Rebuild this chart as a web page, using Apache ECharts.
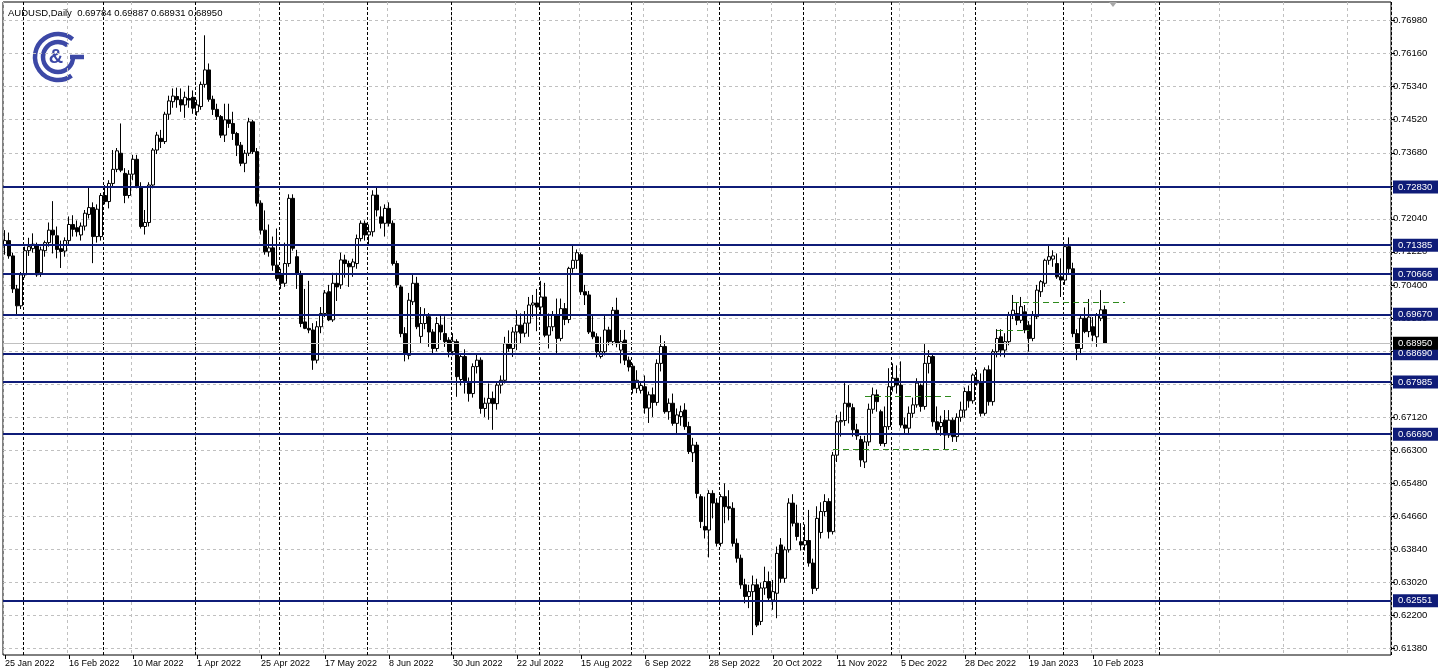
<!DOCTYPE html>
<html><head><meta charset="utf-8">
<script src="https://cdn.jsdelivr.net/npm/echarts@6/dist/echarts.min.js"></script>
<style>html,body{margin:0;padding:0;background:#fff}#c{width:1438px;height:671px}</style>
</head><body><div id="c"></div><script>
// ---------------- DATA ----------------
const symbolTitle = 'AUDUSD,Daily';
const xTickLabels = ['25 Jan 2022','16 Feb 2022','10 Mar 2022','1 Apr 2022','25 Apr 2022','17 May 2022','8 Jun 2022','30 Jun 2022','22 Jul 2022','15 Aug 2022','6 Sep 2022','28 Sep 2022','20 Oct 2022','11 Nov 2022','5 Dec 2022','28 Dec 2022','19 Jan 2023','10 Feb 2023'];
const yTickValues = [0.6138,0.6220,0.6302,0.6384,0.6466,0.6548,0.6630,0.6712,0.6794,0.6876,0.6958,0.7040,0.7122,0.7204,0.7286,0.7368,0.7452,0.7534,0.7616,0.7698];
const levelPrices = [0.72830,0.71385,0.70666,0.69670,0.68690,0.67985,0.66690,0.62551];
const bidPrice = 0.68950;
const monthStartIdx = [5,25,48,69,91,112,134,157,179,200,222,243,265,289];
const greenSegments = [[207,238,0.6632],[215,237,0.6764],[248,256,0.6928],[252,280,0.6996]];

const opens = [
0.7140,0.7150,0.7112,0.7030,0.6988,0.7065,0.7125,0.7130,0.7140,0.7070,
0.7125,0.7145,0.7176,0.7162,0.7130,0.7124,0.7150,0.7190,0.7182,0.7164,
0.7186,0.7215,0.7232,0.7160,0.7160,0.7262,0.7247,0.7292,0.7327,0.7367,
0.7317,0.7262,0.7315,0.7352,0.7284,0.7185,0.7195,0.7288,0.7375,0.7404,
0.7396,0.7464,0.7495,0.7508,0.7500,0.7487,0.7503,0.7506,0.7470,0.7483,
0.7538,0.7574,0.7501,0.7476,0.7458,0.7412,0.7450,0.7441,0.7416,0.7387,
0.7342,0.7367,0.7445,0.7371,0.7243,0.7176,0.7122,0.7132,0.7089,0.7066,
0.7044,0.7093,0.7255,0.7110,0.7068,0.6948,0.6932,0.6928,0.6853,0.6936,
0.6969,0.7023,0.6953,0.7044,0.7040,0.7102,0.7093,0.7085,0.7093,0.7155,
0.7193,0.7164,0.7172,0.7263,0.7209,0.7193,0.7230,0.7193,0.7093,0.7035,
0.6919,0.6865,0.6998,0.7044,0.6912,0.6944,0.6961,0.6923,0.6882,0.6940,
0.6919,0.6903,0.6874,0.6899,0.6805,0.6862,0.6799,0.6770,0.6837,0.6853,
0.6733,0.6746,0.6758,0.6745,0.6791,0.6803,0.6894,0.6882,0.6923,0.6940,
0.6920,0.6945,0.6990,0.6995,0.6985,0.7010,0.6915,0.6936,0.6965,0.6907,
0.6981,0.6954,0.7081,0.7101,0.7115,0.7023,0.7015,0.6923,0.6911,0.6862,
0.6874,0.6928,0.6899,0.6977,0.6878,0.6903,0.6853,0.6838,0.6783,0.6778,
0.6787,0.6734,0.6767,0.6748,0.6845,0.6887,0.6725,0.6746,0.6696,0.6713,
0.6729,0.6688,0.6623,0.6642,0.6514,0.6440,0.6431,0.6522,0.6498,0.6398,
0.6514,0.6489,0.6485,0.6398,0.6361,0.6295,0.6266,0.6278,0.6295,0.6204,
0.6287,0.6303,0.6257,0.6274,0.6394,0.6311,0.6382,0.6498,0.6448,0.6402,
0.6394,0.6405,0.6349,0.6286,0.6425,0.6477,0.6502,0.6427,0.6617,0.6700,
0.6703,0.6746,0.6735,0.6680,0.6656,0.6600,0.6650,0.6731,0.6767,0.6725,
0.6646,0.6688,0.6787,0.6808,0.6791,0.6692,0.6684,0.6721,0.6742,0.6790,
0.6738,0.6845,0.6862,0.6700,0.6688,0.6704,0.6667,0.6704,0.6663,0.6711,
0.6729,0.6775,0.6752,0.6803,0.6796,0.6721,0.6829,0.6750,0.6874,0.6911,
0.6878,0.6899,0.6965,0.6969,0.6952,0.6973,0.6940,0.6907,0.6961,0.7023,
0.7044,0.7101,0.7104,0.7093,0.7060,0.7052,0.7135,0.7080,0.6919,0.6882,
0.6957,0.6924,0.6936,0.6911,0.6957,0.69784];
const highs = [
0.7176,0.7170,0.7120,0.7040,0.7072,0.7135,0.7157,0.7168,0.7145,0.7135,
0.7150,0.7195,0.7248,0.7185,0.7150,0.7158,0.7210,0.7213,0.7200,0.7195,
0.7226,0.7283,0.7245,0.7240,0.7268,0.7288,0.7300,0.7375,0.7380,0.7441,
0.7330,0.7325,0.7363,0.7363,0.7295,0.7226,0.7295,0.7380,0.7420,0.7425,
0.7470,0.7510,0.7528,0.7530,0.7528,0.7520,0.7535,0.7523,0.7500,0.7545,
0.7660,0.7590,0.7510,0.7490,0.7462,0.7490,0.7490,0.7470,0.7420,0.7395,
0.7375,0.7455,0.7450,0.7380,0.7250,0.7225,0.7190,0.7160,0.7180,0.7080,
0.7145,0.7265,0.7265,0.7127,0.7075,0.7030,0.7050,0.6945,0.6950,0.6985,
0.7027,0.7040,0.7070,0.7070,0.7120,0.7115,0.7100,0.7105,0.7165,0.7200,
0.7200,0.7190,0.7275,0.7283,0.7235,0.7240,0.7245,0.7200,0.7100,0.7040,
0.6935,0.7020,0.7065,0.7060,0.6985,0.6982,0.6970,0.6930,0.6960,0.6965,
0.6962,0.6910,0.6920,0.6905,0.6870,0.6880,0.6810,0.6845,0.6870,0.6860,
0.6760,0.6795,0.6775,0.6800,0.6815,0.6911,0.6927,0.6935,0.6977,0.6969,
0.6975,0.7010,0.7015,0.7030,0.7050,0.7045,0.6969,0.6975,0.7006,0.7006,
0.6995,0.7085,0.7137,0.7128,0.7120,0.7040,0.7025,0.6965,0.6920,0.6911,
0.6965,0.6936,0.6985,0.7008,0.6928,0.6928,0.6862,0.6845,0.6828,0.6800,
0.6815,0.6775,0.6785,0.6855,0.6915,0.6900,0.6758,0.6770,0.6733,0.6740,
0.6746,0.6700,0.6660,0.6650,0.6520,0.6514,0.6530,0.6530,0.6510,0.6520,
0.6547,0.6530,0.6500,0.6410,0.6370,0.6310,0.6295,0.6318,0.6310,0.6300,
0.6340,0.6328,0.6307,0.6390,0.6411,0.6390,0.6510,0.6520,0.6494,0.6448,
0.6445,0.6481,0.6360,0.6490,0.6500,0.6520,0.6510,0.6625,0.6717,0.6725,
0.6796,0.6791,0.6745,0.6695,0.6665,0.6665,0.6745,0.6785,0.6780,0.6730,
0.6738,0.6833,0.6845,0.6840,0.6850,0.6710,0.6738,0.6760,0.6808,0.6795,
0.6893,0.6878,0.6870,0.6738,0.6715,0.6729,0.6729,0.6710,0.6721,0.6750,
0.6785,0.6790,0.6820,0.6830,0.6820,0.6835,0.6840,0.6880,0.6930,0.6930,
0.6920,0.6973,0.7015,0.6995,0.7010,0.6990,0.6950,0.6975,0.7040,0.7052,
0.7105,0.7139,0.7126,0.7118,0.7106,0.7140,0.7158,0.7095,0.6930,0.6965,
0.6984,0.7005,0.6960,0.6970,0.7027,0.69887];
const lows = [
0.7115,0.7105,0.7020,0.6967,0.6980,0.7058,0.7112,0.7120,0.7060,0.7060,
0.7110,0.7135,0.7118,0.7106,0.7082,0.7110,0.7140,0.7160,0.7160,0.7150,
0.7175,0.7205,0.7094,0.7145,0.7150,0.7240,0.7230,0.7285,0.7320,0.7320,
0.7243,0.7255,0.7300,0.7280,0.7180,0.7165,0.7185,0.7280,0.7365,0.7380,
0.7390,0.7450,0.7480,0.7480,0.7470,0.7455,0.7480,0.7465,0.7460,0.7475,
0.7530,0.7495,0.7462,0.7450,0.7405,0.7395,0.7430,0.7400,0.7360,0.7335,
0.7320,0.7360,0.7365,0.7235,0.7165,0.7115,0.7110,0.7075,0.7050,0.7030,
0.7035,0.7085,0.7125,0.7030,0.6935,0.6930,0.6920,0.6829,0.6845,0.6920,
0.6960,0.6950,0.6948,0.7000,0.7030,0.7058,0.7035,0.7060,0.7080,0.7148,
0.7150,0.7140,0.7160,0.7210,0.7180,0.7160,0.7185,0.7088,0.7033,0.6910,
0.6850,0.6855,0.6990,0.6930,0.6895,0.6930,0.6886,0.6870,0.6875,0.6903,
0.6886,0.6860,0.6865,0.6762,0.6790,0.6770,0.6750,0.6760,0.6820,0.6720,
0.6712,0.6705,0.6680,0.6730,0.6770,0.6795,0.6874,0.6861,0.6878,0.6895,
0.6910,0.6911,0.6960,0.6925,0.6965,0.6910,0.6882,0.6925,0.6870,0.6900,
0.6940,0.6945,0.7070,0.7080,0.7015,0.6990,0.6918,0.6905,0.6860,0.6857,
0.6865,0.6890,0.6890,0.6885,0.6845,0.6841,0.6825,0.6770,0.6771,0.6770,
0.6720,0.6697,0.6712,0.6740,0.6825,0.6720,0.6705,0.6690,0.6668,0.6690,
0.6680,0.6620,0.6600,0.6510,0.6436,0.6410,0.6363,0.6460,0.6390,0.6390,
0.6448,0.6455,0.6390,0.6350,0.6285,0.6249,0.6237,0.6170,0.6190,0.6195,
0.6270,0.6253,0.6233,0.6212,0.6300,0.6300,0.6375,0.6440,0.6405,0.6380,
0.6380,0.6340,0.6272,0.6280,0.6410,0.6465,0.6410,0.6420,0.6600,0.6663,
0.6690,0.6696,0.6663,0.6655,0.6588,0.6585,0.6640,0.6720,0.6725,0.6640,
0.6638,0.6680,0.6775,0.6770,0.6685,0.6670,0.6672,0.6710,0.6735,0.6725,
0.6730,0.6820,0.6688,0.6671,0.6665,0.6630,0.6660,0.6650,0.6650,0.6700,
0.6710,0.6735,0.6745,0.6790,0.6713,0.6715,0.6740,0.6740,0.6860,0.6862,
0.6860,0.6890,0.6955,0.6940,0.6945,0.6920,0.6874,0.6900,0.6955,0.7010,
0.7035,0.7090,0.7085,0.7055,0.7010,0.7040,0.7065,0.6910,0.6853,0.6870,
0.6920,0.6910,0.6900,0.6886,0.6950,0.68931];
const closes = [
0.7150,0.7112,0.7030,0.6988,0.7065,0.7125,0.7135,0.7141,0.7065,0.7127,
0.7145,0.7176,0.7164,0.7128,0.7123,0.7150,0.7190,0.7178,0.7172,0.7186,
0.7218,0.7232,0.7160,0.7228,0.7262,0.7247,0.7292,0.7327,0.7373,0.7325,
0.7262,0.7315,0.7352,0.7284,0.7185,0.7195,0.7288,0.7375,0.7412,0.7396,
0.7464,0.7497,0.7509,0.7500,0.7487,0.7506,0.7499,0.7479,0.7487,0.7538,
0.7574,0.7501,0.7476,0.7458,0.7412,0.7450,0.7441,0.7416,0.7387,0.7342,
0.7367,0.7445,0.7371,0.7243,0.7176,0.7122,0.7132,0.7089,0.7056,0.7044,
0.7093,0.7255,0.7131,0.7068,0.6944,0.6932,0.6928,0.6853,0.6936,0.6969,
0.7020,0.6953,0.7044,0.7035,0.7102,0.7093,0.7085,0.7097,0.7155,0.7193,
0.7164,0.7172,0.7263,0.7226,0.7193,0.7230,0.7193,0.7093,0.7040,0.6919,
0.6870,0.7002,0.7044,0.6936,0.6944,0.6965,0.6923,0.6882,0.6944,0.6923,
0.6899,0.6874,0.6900,0.6812,0.6862,0.6799,0.6770,0.6837,0.6853,0.6733,
0.6746,0.6758,0.6745,0.6791,0.6803,0.6894,0.6882,0.6923,0.6940,0.6920,
0.6945,0.6990,0.6995,0.6985,0.7010,0.6915,0.6936,0.6965,0.6907,0.6981,
0.6954,0.7081,0.7101,0.7120,0.7023,0.7015,0.6923,0.6911,0.6874,0.6874,
0.6928,0.6899,0.6977,0.6894,0.6899,0.6853,0.6836,0.6783,0.6803,0.6790,
0.6734,0.6767,0.6748,0.6845,0.6887,0.6725,0.6746,0.6696,0.6717,0.6725,
0.6688,0.6626,0.6642,0.6522,0.6452,0.6431,0.6522,0.6498,0.6398,0.6514,
0.6489,0.6485,0.6398,0.6361,0.6295,0.6266,0.6278,0.6295,0.6195,0.6287,
0.6303,0.6262,0.6278,0.6373,0.6311,0.6382,0.6498,0.6448,0.6415,0.6394,
0.6405,0.6349,0.6286,0.6460,0.6477,0.6502,0.6427,0.6617,0.6700,0.6703,
0.6746,0.6737,0.6680,0.6665,0.6605,0.6650,0.6731,0.6767,0.6750,0.6646,
0.6688,0.6787,0.6808,0.6791,0.6692,0.6684,0.6721,0.6742,0.6796,0.6738,
0.6845,0.6862,0.6700,0.6680,0.6698,0.6667,0.6704,0.6663,0.6711,0.6729,
0.6775,0.6752,0.6816,0.6796,0.6721,0.6829,0.6750,0.6874,0.6907,0.6878,
0.6899,0.6965,0.6977,0.6952,0.6986,0.6928,0.6907,0.6965,0.7027,0.7048,
0.7101,0.7110,0.7112,0.7060,0.7052,0.7135,0.7080,0.6919,0.6882,0.6957,
0.6924,0.6960,0.6915,0.6965,0.6978,0.68950];

// ---------------- BUILD ----------------
const TOTAL_SLOTS = 347;
const categories = [];
(function () {
  const d = new Date(Date.UTC(2022, 0, 25));
  while (categories.length < opens.length) {
    const wd = d.getUTCDay();
    const iso = d.toISOString().slice(0, 10);
    if (wd !== 0 && wd !== 6 && iso !== '2022-12-26') categories.push(iso);
    d.setUTCDate(d.getUTCDate() + 1);
  }
  for (let k = 1; categories.length < TOTAL_SLOTS; k++) categories.push('future-' + k);
})();
const candleData = opens.map((o, i) => [o, closes[i], lows[i], highs[i]]);

const FONT = "'Liberation Sans', Arial, sans-serif";
const NAVY = '#0f1c78';
const LOGO = '#3c48a6';
const last = opens.length - 1;
const titleText = symbolTitle + '  ' + [opens[last], highs[last], lows[last], closes[last]].map(v => v.toFixed(5)).join(' ');

const labelEvery = 16;
const isLabelIdx = (i) => i % labelEvery === 0 && i / labelEvery < xTickLabels.length;

const markData = levelPrices.map(v => ({
  yAxis: v,
  lineStyle: { color: NAVY, width: 2, type: 'solid' },
  label: { show: true, position: 'end', distance: 2, formatter: v.toFixed(5), color: '#fff',
           backgroundColor: NAVY, padding: [2, 6, 1, 5], fontSize: 9.5, fontFamily: FONT }
}));
markData.push({
  yAxis: bidPrice,
  lineStyle: { color: '#c0c0c0', width: 1, type: 'solid' },
  label: { show: true, position: 'end', distance: 2, formatter: bidPrice.toFixed(5), color: '#fff',
           backgroundColor: '#000', padding: [2, 6, 1, 5], fontSize: 9.5, fontFamily: FONT }
});
greenSegments.forEach(s => {
  markData.push([
    { coord: [categories[s[0]], s[2]], lineStyle: { color: '#2e8a1c', width: 1, type: [6, 4] }, label: { show: false } },
    { coord: [categories[s[1]], s[2]] }
  ]);
});

const option = {
  animation: false,
  backgroundColor: '#ffffff',
  textStyle: { fontFamily: FONT },
  grid: { left: 3, right: 47, top: 2, bottom: 16, show: true, borderColor: '#000', borderWidth: 1, backgroundColor: 'transparent' },
  xAxis: [
    {
      type: 'category', data: categories, boundaryGap: true,
      axisLine: { show: false },
      axisTick: { show: true, alignWithLabel: true, length: 4, interval: (i) => isLabelIdx(i), lineStyle: { color: '#000' } },
      axisLabel: { interval: (i) => isLabelIdx(i), formatter: (v, i) => xTickLabels[i / labelEvery] || '',
                   align: 'left', margin: 4, fontSize: 9, fontFamily: FONT, color: '#000' },
      splitLine: { show: true, interval: (i) => i % labelEvery === 0, lineStyle: { color: '#c0c0c0', width: 1, type: [3, 3] } }
    },
    {
      type: 'category', data: categories, boundaryGap: true,
      axisLine: { show: false }, axisTick: { show: false }, axisLabel: { show: false },
      splitLine: { show: true, interval: (i) => monthStartIdx.indexOf(i) >= 0, lineStyle: { color: '#000', width: 1, type: [3, 2] } }
    }
  ],
  yAxis: {
    type: 'value', position: 'right', min: 0.61206, max: 0.77427, scale: true,
    axisLine: { show: false },
    axisTick: { show: true, customValues: yTickValues, length: 4, lineStyle: { color: '#000' } },
    axisLabel: { customValues: yTickValues, formatter: (v) => v.toFixed(5), fontSize: 9.5, fontFamily: FONT, color: '#000', margin: 2 },
    splitLine: { show: true, lineStyle: { color: '#c0c0c0', width: 1, type: [3, 3] } }
  },
  series: [{
    type: 'candlestick', xAxisIndex: 0, yAxisIndex: 0,
    data: candleData, barWidth: 3,
    itemStyle: { color: '#ffffff', color0: '#000000', borderColor: '#000000', borderColor0: '#000000', borderWidth: 1 },
    markLine: { symbol: ['none', 'none'], silent: true, animation: false, precision: 5, data: markData }
  }],
  graphic: [
    { type: 'text', left: 8, top: 8, style: { text: titleText, fill: '#000', font: '9.5px ' + FONT } },
    { type: 'arc', shape: { cx: 58, cy: 57, r: 23, startAngle: Math.PI * 0.3, endAngle: Math.PI * 1.72, clockwise: true },
      style: { stroke: LOGO, lineWidth: 4.5, fill: null } },
    { type: 'arc', shape: { cx: 58, cy: 57, r: 15, startAngle: 0, endAngle: Math.PI * 1.72, clockwise: true },
      style: { stroke: LOGO, lineWidth: 4.5, fill: null } },
    { type: 'line', shape: { x1: 70, y1: 57, x2: 84, y2: 57 }, style: { stroke: LOGO, lineWidth: 4.5 } },
    { type: 'text', x: 56, y: 57, style: { text: '&', fill: LOGO, font: 'bold 20px ' + FONT, textAlign: 'center', textVerticalAlign: 'middle' } },
    { type: 'polygon', shape: { points: [[1109, 2], [1117, 2], [1113, 7]] }, style: { fill: '#a8a8a8' } }
  ]
};
echarts.init(document.getElementById('c')).setOption(option);
</script></body></html>
